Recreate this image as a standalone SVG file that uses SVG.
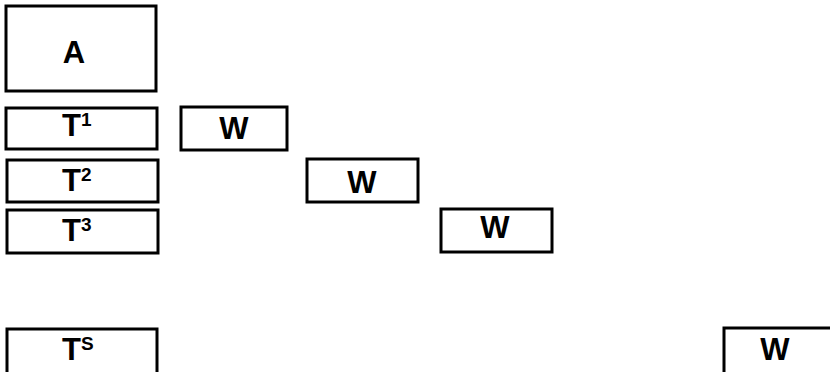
<svg xmlns="http://www.w3.org/2000/svg" width="830" height="372" viewBox="0 0 830 372">
<style>
.box{fill:#fff;stroke:#000;stroke-width:3}
.lbl{font-family:"Liberation Sans",Arial,sans-serif;font-weight:bold;font-size:31px;fill:#000}
.sup{font-family:"Liberation Sans",Arial,sans-serif;font-weight:bold;font-size:19px;fill:#000}
</style>
<rect width="830" height="372" fill="#fff"/>
<g id="A"><rect class="box" x="6" y="6" width="150" height="85"/><text class="lbl" x="74" y="63" text-anchor="middle">A</text></g>
<g id="T1"><rect class="box" x="6" y="108" width="151" height="41"/><text class="lbl" x="62" y="136">T<tspan class="sup" dy="-10">1</tspan></text></g>
<g id="T2"><rect class="box" x="7" y="160" width="151" height="42"/><text class="lbl" x="62" y="191">T<tspan class="sup" dy="-10">2</tspan></text></g>
<g id="T3"><rect class="box" x="7" y="210" width="151" height="43"/><text class="lbl" x="62" y="241">T<tspan class="sup" dy="-10">3</tspan></text></g>
<g id="TS"><rect class="box" x="7" y="329" width="150" height="60"/><text class="lbl" x="62" y="360">T<tspan class="sup" dy="-10">S</tspan></text></g>
<g id="W1"><rect class="box" x="181" y="107" width="106" height="43"/><text class="lbl" x="234" y="139" text-anchor="middle">W</text></g>
<g id="W2"><rect class="box" x="307" y="159" width="111" height="43"/><text class="lbl" x="362" y="193" text-anchor="middle">W</text></g>
<g id="W3"><rect class="box" x="441" y="209" width="111" height="43"/><text class="lbl" x="495" y="238" text-anchor="middle">W</text></g>
<g id="W4"><rect class="box" x="724" y="328" width="120" height="60"/><text class="lbl" x="775" y="360" text-anchor="middle">W</text></g>
<g id="connectors"/>
</svg>
